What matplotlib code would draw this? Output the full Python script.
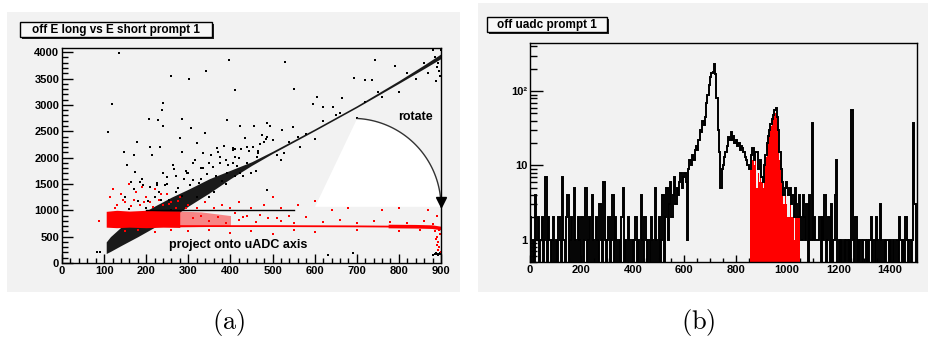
import numpy as np
import matplotlib.pyplot as plt
from matplotlib.patches import Rectangle, Polygon
from matplotlib.ticker import MultipleLocator, FixedLocator, LogLocator, NullFormatter

plt.rcParams['font.family'] = ['Liberation Sans', 'DejaVu Sans']
plt.rcParams['font.weight'] = 'bold'

W, H = 929, 338

# ---------------- panel (a): E long vs E short ----------------
# dense diagonal band (edges)
band_x = [105, 115, 140, 180, 220, 260, 300, 350, 400, 450, 500, 600, 700, 800, 860, 900]
band_lo = [180, 220, 330, 500, 680, 860, 1080, 1330, 1600, 1850, 2080, 2510, 2950, 3410, 3690, 3880]
band_hi = [400, 500, 680, 900, 1080, 1250, 1400, 1600, 1760, 1920, 2120, 2545, 2985, 3460, 3760, 3970]

# sparse black points
black_x = [136, 397, 530, 743, 341, 260, 302, 791, 693, 719, 735, 241, 119, 597, 619, 644,
           551, 412, 664, 605, 237, 285, 306, 340, 392, 422, 486, 549, 522, 110, 207, 227,
           239, 177, 209, 233, 280, 320, 367, 407, 411, 454, 466, 486, 502, 148, 171, 213,
           284, 336, 375, 411, 439, 462, 526, 565, 154, 174, 185, 165, 193, 225, 249, 264,
           296, 312, 359, 391, 407, 423, 486, 632, 692, 82, 90,
           250, 270, 300, 320, 350, 380, 420, 450, 480, 520, 560, 600, 650, 700, 750, 800,
           230, 260, 290, 330, 360, 390, 430, 470, 510, 540, 580, 620, 660, 720, 760, 820,
           840, 860, 870,
           882, 890, 895, 885, 900, 898, 893, 888,
           880, 885, 890, 895, 900, 887, 893, 898,
           205, 215, 225, 235, 245, 255, 265, 275, 285, 295, 305, 315, 325, 335, 345, 355,
           365, 375, 385, 395, 405, 415, 425, 435, 445, 455, 465, 475, 485, 495, 150, 160,
           170, 180, 190, 200, 210, 220, 240, 270, 310, 330, 350, 370, 390, 410, 440, 460]
black_y = [3994, 3861, 3811, 3849, 3647, 3558, 3495, 3741, 3520, 3470, 3470, 3027, 3014, 3008, 2951, 2951,
           3299, 3280, 3122, 3154, 2901, 2724, 2566, 2471, 2711, 2598, 2648, 2585, 2522, 2490, 2724, 2711,
           2598, 2300, 2206, 2206, 2364, 2269, 2174, 2174, 2155, 2206, 2079, 2395, 2332, 2111, 2048, 2048,
           2111, 2079, 2016, 2016, 1890, 2016, 2079, 2206, 1858, 1732, 1542, 1542, 1479, 1479, 1637, 1858,
           1700, 1574, 1826, 1700, 1890, 1700, 1384, 152, 183, 202, 202,
           1500, 1650, 1700, 1250, 1900, 1550, 2000, 1700, 2300, 1950, 2400, 2350, 2800, 2750, 3250, 3250,
           1350, 1000, 1600, 1800, 1350, 1950, 1650, 2250, 2050, 2300, 2450, 2700, 2850, 3050, 3150, 3600,
           3500, 3800, 3600,
           4038, 3722, 3650, 3900, 4050, 3550, 3800, 3450,
           160, 175, 170, 165, 180, 190, 150, 185,
           1172, 986, 1510, 1204, 1478, 1192, 1786, 1430, 1264, 1738, 1482, 1956, 1520, 1794, 1698, 2042,
           1656, 1900, 2224, 1858, 2152, 1846, 2170, 2374, 2118, 2602, 2126, 2430, 2354, 2598, 1250, 1020,
           1400, 1180, 1600, 1050, 1450, 1250, 1700, 1350, 1900, 1600, 1250, 2100, 1500, 1650, 2200, 1750]

# dense red band and red line
red_band_x = [105, 130, 160, 200, 240, 280]
red_band_lo = [680, 670, 680, 670, 680, 675]
red_band_hi = [980, 1000, 985, 1000, 990, 985]
red_fade_x = [280, 330, 400]
red_fade_lo = [680, 690, 700]
red_fade_hi = [985, 970, 900]
red_line_x = [110, 300, 500, 700, 800, 850, 880, 900]
red_line_y = [705, 700, 700, 695, 690, 688, 680, 655]
red_thick_x = [780, 840, 880, 900]
red_thick_y = [692, 688, 680, 655]

red_x = [115, 120, 130, 140, 150, 160, 170, 175, 185, 190, 200, 210, 220, 230, 240, 250,
         260, 270, 280, 300, 320, 340, 360, 380, 400, 420, 450, 480, 500, 520, 560, 600,
         640, 680, 720, 760, 800, 850, 870,
         310, 330, 350, 370, 390, 420, 440, 460, 490, 520, 550, 580, 620, 660, 700, 740,
         780, 820, 860, 880, 890,
         89, 150, 180, 220, 260, 300, 350, 400, 450, 500, 550, 600, 700, 800, 850,
         885, 890, 892, 895, 897, 888, 893, 899, 896, 890,
         125, 145, 165, 195, 215, 235, 255, 275, 295, 410, 430, 470, 510, 540]
red_y = [1250, 1400, 1100, 1300, 1150, 1500, 1200, 1350, 1100, 1450, 1250, 1150, 1400, 1200, 1100, 1300,
         1150, 1050, 1250, 1100, 1050, 1150, 1050, 1100, 1050, 1150, 1050, 1100, 1250, 1050, 1100, 1180,
         1000, 1050, 1100, 1000, 1050, 1100, 1000,
         850, 900, 800, 880, 760, 820, 900, 780, 850, 800, 760, 880, 780, 820, 760, 800,
         780, 760, 800, 740, 900,
         796, 600, 620, 580, 620, 600, 630, 560, 600, 550, 620, 580, 620, 600, 620,
         600, 500, 400, 300, 550, 450, 250, 200, 620, 350,
         1050, 1200, 1080, 1150, 1060, 1300, 1120, 1180, 1040, 940, 880, 920, 860, 900]

# annotation geometry (data units)
proj_line = ([200, 550], [1000, 1000])
arc_center = (690, 1067)
arc_r = (210, 1678)
wedge_left = (601, 1067)

# ---------------- panel (b): uADC histogram ----------------
bin_width = 5
counts = [
    2, 0, 1, 0, 4, 1, 2, 0, 1, 2, 0, 1, 7, 0, 2, 1, 0, 1, 2, 0,
    1, 0, 2, 1, 0, 7, 1, 0, 2, 4, 0, 1, 2, 0, 5, 1, 0, 2, 1, 0,
    2, 0, 1, 5, 0, 1, 2, 0, 4, 1, 0, 2, 1, 0, 3, 1, 0, 6, 1, 0,
    1, 2, 0, 1, 4, 0, 2, 1, 0, 1, 0, 2, 5, 0, 1, 0, 2, 1, 0, 1,
    0, 1, 2, 0, 1, 0, 4, 1, 0, 2, 1, 0, 1, 0, 2, 1, 0, 5, 1, 0,
    2, 0, 1, 4, 0, 2, 5, 1, 3, 6, 2, 4, 7, 3, 5, 4, 6, 8, 5, 7,
    8, 6, 1, 9, 12, 10, 14, 12, 16, 18, 16, 22, 30, 28, 40, 35, 45, 70, 90, 120,
    155, 175, 180, 235, 170, 80, 30, 15, 5, 9, 10, 13, 15, 18, 24, 22, 28, 22, 25, 20,
    22, 18, 20, 16, 18, 17, 15, 13, 12, 10, 9, 9, 14, 17, 12, 15, 15, 9, 9, 12,
    7, 6, 10, 14, 20, 25, 30, 36, 42, 48, 55, 60, 45, 30, 15, 9, 6, 4, 5, 6,
    5, 4, 5, 3, 4, 2, 5, 3, 2, 4, 2, 1, 4, 2, 1, 3, 0, 4, 1, 37,
    1, 2, 1, 1, 1, 2, 0, 2, 1, 4, 0, 1, 2, 0, 3, 0, 1, 4, 12, 0,
    1, 0, 1, 0, 1, 0, 1, 0, 1, 0, 55, 1, 0, 2, 0, 1, 0, 1, 0, 1,
    1, 0, 1, 0, 1, 2, 0, 1, 0, 2, 1, 0, 3, 1, 0, 1, 0, 1, 1, 0,
    1, 0, 1, 0, 0, 1, 0, 2, 1, 0, 1, 0, 2, 1, 0, 1, 0, 1, 37, 3,
]
red_start = 855
red_counts = [9, 14, 12, 10, 14, 5, 8, 6, 10,
              6, 5, 9, 13, 18, 24, 28, 34, 40, 45, 50, 50, 38, 22, 12, 7, 5, 3, 4, 3,
              2, 2, 3, 2, 2, 1, 2, 2, 2, 2]


def fig_box(x0, y0, x1, y1):
    # pixel box (top-left origin) -> figure fraction (x, y, w, h)
    return x0 / W, 1 - y1 / H, (x1 - x0) / W, (y1 - y0) / H


fig = plt.figure(figsize=(W / 100, H / 100), dpi=100)
fig.patch.set_facecolor('white')

# grey canvases, kept behind the axes
for box in [(7, 12, 460, 292), (478, 3, 929, 292)]:
    x, y, w, h = fig_box(*box)
    fig.patches.append(Rectangle((x, y), w, h, transform=fig.transFigure,
                                 facecolor='#f2f2f2', edgecolor='none', zorder=-10))

# title boxes with shadow
for box, label in [((20, 22, 212, 37), 'off E long vs E short prompt 1'),
                   ((487, 17, 607, 32), 'off uadc prompt 1')]:
    x, y, w, h = fig_box(*box)
    fig.patches.append(Rectangle((x + 2 / W, y - 2 / H), w, h, transform=fig.transFigure,
                                 facecolor='#222222', edgecolor='none', zorder=1))
    fig.patches.append(Rectangle((x, y), w, h, transform=fig.transFigure,
                                 facecolor='#f7f7f7', edgecolor='black', lw=1, zorder=2))
    fig.text(x + w / 2, y + h / 2, label, ha='center', va='center',
             fontsize=8.5, fontweight='bold', zorder=3)

# ---- panel (a)
ax1 = fig.add_axes(fig_box(62, 48, 441, 263))
ax1.set_zorder(5)
ax1.set_facecolor('#f2f2f2')
ax1.fill_between(band_x, band_lo, band_hi, color='#1a1a1a', lw=0, zorder=2)
ax1.scatter(black_x, black_y, s=0.7, marker='s', color='black', lw=0, zorder=2)
ax1.fill_between(red_band_x, red_band_lo, red_band_hi, color='red', lw=0, zorder=2.5)
ax1.fill_between(red_fade_x, red_fade_lo, red_fade_hi, color='red', alpha=0.45, lw=0, zorder=2.5)
ax1.plot(red_line_x, red_line_y, color='red', lw=1.3, zorder=2.6)
ax1.plot(red_thick_x, red_thick_y, color='red', lw=2.6, zorder=2.6)
ax1.scatter(red_x, red_y, s=0.9, marker='s', color='red', lw=0, zorder=2.6)

t = np.radians(np.linspace(87, 0, 60))
arc_x = arc_center[0] + arc_r[0] * np.cos(t)
arc_y = arc_center[1] + arc_r[1] * np.sin(t)
wedge = np.column_stack([np.r_[wedge_left[0], arc_x], np.r_[wedge_left[1], arc_y]])
ax1.add_patch(Polygon(wedge, closed=True, facecolor='white', edgecolor='none', zorder=3))
ax1.plot(arc_x, arc_y, color='#333333', lw=1, zorder=4, clip_on=False)
ax1.plot([900], [1150], marker='v', color='black', markersize=7, zorder=5, clip_on=False)
ax1.plot(*proj_line, color='black', lw=1, zorder=4)

ax1.text(839, 2770, 'rotate', ha='center', va='center', fontsize=9, fontweight='bold', zorder=5)
ax1.text(419, 341, 'project onto uADC axis', ha='center', va='center',
         fontsize=9, fontweight='bold', zorder=5)

ax1.set_xlim(0, 900)
ax1.set_ylim(0, 4080)
ax1.xaxis.set_major_locator(MultipleLocator(100))
ax1.xaxis.set_minor_locator(MultipleLocator(20))
ax1.yaxis.set_major_locator(MultipleLocator(500))
ax1.yaxis.set_minor_locator(MultipleLocator(100))
ax1.tick_params(axis='y', which='major', direction='in', length=7.9, width=1, labelsize=8, pad=2)
ax1.tick_params(axis='y', which='minor', direction='in', length=4.3, width=1)
ax1.tick_params(axis='x', which='major', direction='in', length=6.5, width=1, labelsize=8, pad=2)
ax1.tick_params(axis='x', which='minor', direction='in', length=3.6, width=1)

# ---- panel (b)
ax2 = fig.add_axes(fig_box(530, 43, 917, 262))
ax2.set_zorder(5)
ax2.set_facecolor('#f2f2f2')
edges = np.arange(len(counts) + 1) * bin_width
shown = np.where(np.array(counts) > 0, counts, 0.05)
red_edges = red_start + np.arange(len(red_counts) + 1) * bin_width
ax2.stairs(red_counts, red_edges, fill=True, baseline=0.05, color='red', lw=0, zorder=2)
ax2.stairs(shown, edges, baseline=0.05, color='black', lw=1.4, zorder=3)
ax2.set_yscale('log')
ax2.set_xlim(0, 1505)
ax2.set_ylim(0.5, 445)
ax2.xaxis.set_major_locator(MultipleLocator(200))
ax2.xaxis.set_minor_locator(MultipleLocator(50))
ax2.yaxis.set_major_locator(FixedLocator([1, 10, 100]))
ax2.yaxis.set_minor_locator(LogLocator(base=10, subs=np.arange(2, 10)))
ax2.yaxis.set_minor_formatter(NullFormatter())
ax2.set_yticklabels(['1', '10', '10²'])
ax2.tick_params(axis='y', which='major', direction='in', length=9.4, width=1, labelsize=8, pad=2)
ax2.tick_params(axis='y', which='minor', direction='in', length=5, width=1)
ax2.tick_params(axis='x', which='major', direction='in', length=5, width=1, labelsize=8, pad=2)
ax2.tick_params(axis='x', which='minor', direction='in', length=3, width=1)

for ax in (ax1, ax2):
    for s in ax.spines.values():
        s.set_linewidth(1)
        s.set_zorder(6)
    for lab in ax.get_xticklabels() + ax.get_yticklabels():
        lab.set_fontweight('bold')

fig.text(229 / W, 1 - 322 / H, r'$\mathrm{(a)}$', ha='center', va='center',
         fontsize=19, math_fontfamily='cm')
fig.text(698 / W, 1 - 322 / H, r'$\mathrm{(b)}$', ha='center', va='center',
         fontsize=19, math_fontfamily='cm')

fig.savefig('out.png', dpi=100, facecolor='white')
